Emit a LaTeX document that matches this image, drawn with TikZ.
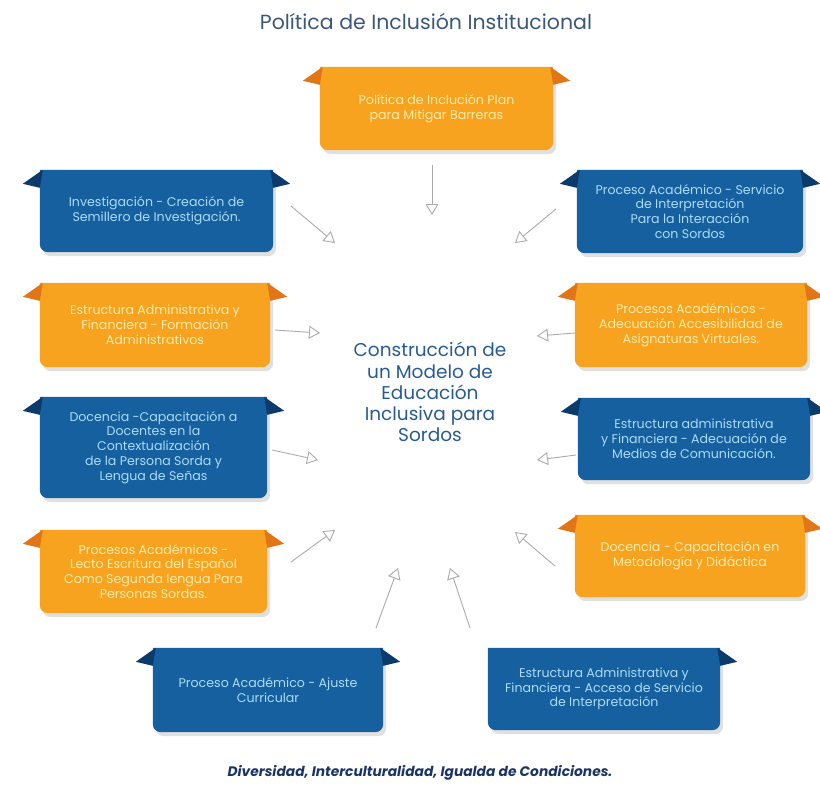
\documentclass[tikz,border=0pt]{standalone}
\usepackage{fontspec}
\setmainfont{Poppins}
\usetikzlibrary{arrows.meta,backgrounds}
\definecolor{orgfill}{RGB}{247,163,32}
\definecolor{orgear}{RGB}{226,118,22}
\definecolor{orgtext}{RGB}{255,236,170}
\definecolor{blufill}{RGB}{22,96,160}
\definecolor{bluear}{RGB}{12,58,106}
\definecolor{blutext}{RGB}{170,220,248}
\definecolor{titlecol}{RGB}{60,88,120}
\definecolor{centercol}{RGB}{40,92,145}
\definecolor{footcol}{RGB}{28,52,100}
\definecolor{arrcol}{RGB}{170,170,170}
\tikzset{
  boxtext/.style={align=center, font=\fontsize{12.6}{14.8}\selectfont, inner sep=0pt},
  obox/.style={boxtext, text=orgtext},
  bbox/.style={boxtext, text=blutext},
  hollowarrow/.style={draw=arrcol, line width=0.9pt, -{Triangle[open, length=11pt, width=13pt, line width=0.9pt]}},
}
% #1 name, #2 L, #3 T, #4 R, #5 B, #6 fill, #7 ear fill, #8 style, #9 text
\newcommand{\ribbon}[9]{%
  \node[#8, minimum width={(#4-#2)*1pt}, minimum height={(#5-#3)*1pt}] (#1) at ({(#2+#4)/2},{(#3+#5)/2}) {#9};
  \begin{scope}[on background layer]
    \fill[black, opacity=0.12] ([shift={(3pt,-4pt)}]#1.north west) -- ([shift={(3pt,-4pt)}]#1.north east) [rounded corners=8pt] -- ([shift={(3pt,-4pt)}]#1.south east) -- ([shift={(3pt,-4pt)}]#1.south west) [sharp corners] -- cycle;
    \fill[#6] (#1.north west) -- (#1.north east) [rounded corners=8pt] -- (#1.south east) -- (#1.south west) [sharp corners] -- cycle;
  \end{scope}
}
\newcommand{\leftear}[2]{\fill[#2] ([xshift=3pt]#1.north west) -- ([shift={(-17pt,-14pt)}]#1.north west) -- ([yshift=-18pt]#1.north west) -- cycle;}
\newcommand{\rightear}[2]{\fill[#2] ([xshift=-3pt]#1.north east) -- ([shift={(17pt,-14pt)}]#1.north east) -- ([yshift=-18pt]#1.north east) -- cycle;}
\begin{document}
\begin{tikzpicture}[x=1pt,y=-1pt]
\useasboundingbox (0,0) rectangle (820,796);

\node[font=\fontsize{20.5}{24}\selectfont, text=titlecol] (title) at (426,22) {Política de Inclusión Institucional};

\ribbon{b1}{320}{67}{553}{150}{orgfill}{orgear}{obox}{Política de Inclución Plan\\para Mitigar Barreras}
\leftear{b1}{orgear}\rightear{b1}{orgear}

\ribbon{b2}{40}{170}{273}{252}{blufill}{bluear}{bbox}{Investigación - Creación de\\Semillero de Investigación.}
\leftear{b2}{bluear}\rightear{b2}{bluear}

\ribbon{b3}{577}{170}{803}{253}{blufill}{bluear}{bbox}{Proceso Académico - Servicio\\de Interpretación\\Para la Interacción\\con Sordos}
\leftear{b3}{bluear}\rightear{b3}{bluear}

\ribbon{b4}{40}{283}{270}{367}{orgfill}{orgear}{obox}{Estructura Administrativa y\\Financiera - Formación\\Administrativos}
\leftear{b4}{orgear}\rightear{b4}{orgear}

\ribbon{b5}{575}{283}{807}{367}{orgfill}{orgear}{obox}{Procesos Académicos -\\Adecuación Accesibilidad de\\Asignaturas Virtuales.}
\leftear{b5}{orgear}\rightear{b5}{orgear}

\ribbon{b6}{40}{397}{267}{498}{blufill}{bluear}{bbox}{Docencia -Capacitación a\\Docentes en la\\Contextualización\\de la Persona Sorda y\\Lengua de Señas}
\leftear{b6}{bluear}\rightear{b6}{bluear}

\ribbon{b7}{578}{398}{810}{480}{blufill}{bluear}{bbox}{Estructura administrativa\\y Financiera - Adecuación de\\Medios de Comunicación.}
\leftear{b7}{bluear}\rightear{b7}{bluear}

\ribbon{b8}{40}{530}{267}{613}{orgfill}{orgear}{obox}{Procesos Académicos -\\Lecto Escritura del Español\\Como Segunda lengua Para\\Personas Sordas.}
\leftear{b8}{orgear}\rightear{b8}{orgear}

\ribbon{b9}{575}{515}{805}{597}{orgfill}{orgear}{obox}{Docencia - Capacitación en\\Metodología y Didáctica}
\leftear{b9}{orgear}\rightear{b9}{orgear}

\ribbon{b10}{153}{648}{383}{732}{blufill}{bluear}{bbox}{Proceso Académico - Ajuste\\Curricular}
\leftear{b10}{bluear}\rightear{b10}{bluear}

\ribbon{b11}{488}{648}{720}{730}{blufill}{bluear}{bbox}{Estructura Administrativa y\\Financiera - Acceso de Servicio\\de Interpretación}
\rightear{b11}{bluear}

\node[align=center, text=centercol, font=\fontsize{18.5}{21.2}\selectfont] (center) at (430,392) {Construcción de\\un Modelo de\\Educación\\Inclusiva para\\Sordos};

\node[font=\fontsize{13.8}{16}\selectfont\bfseries\itshape, text=footcol] (foot) at (420,773) {Diversidad, Interculturalidad, Igualda de Condiciones.};

% arrow ends
\coordinate (s1) at (432,165); \coordinate (e1) at (432,215);
\coordinate (s2) at (291,206); \coordinate (e2) at (335,243);
\coordinate (s3) at (556,209); \coordinate (e3) at (515,243);
\coordinate (s4) at (275,330); \coordinate (e4) at (320,333);
\coordinate (s5) at (575,333); \coordinate (e5) at (537,336);
\coordinate (s6) at (272,450); \coordinate (e6) at (318,460);
\coordinate (s7) at (576,455); \coordinate (e7) at (537,460);
\coordinate (s8) at (291,562); \coordinate (e8) at (335,530);
\coordinate (s9) at (555,566); \coordinate (e9) at (515,532);
\coordinate (s10) at (376,628); \coordinate (e10) at (398,568);
\coordinate (s11) at (470,628); \coordinate (e11) at (450,568);
\foreach \i in {1,...,11} {\draw[hollowarrow] (s\i) -- (e\i);}
\end{tikzpicture}
\end{document}
